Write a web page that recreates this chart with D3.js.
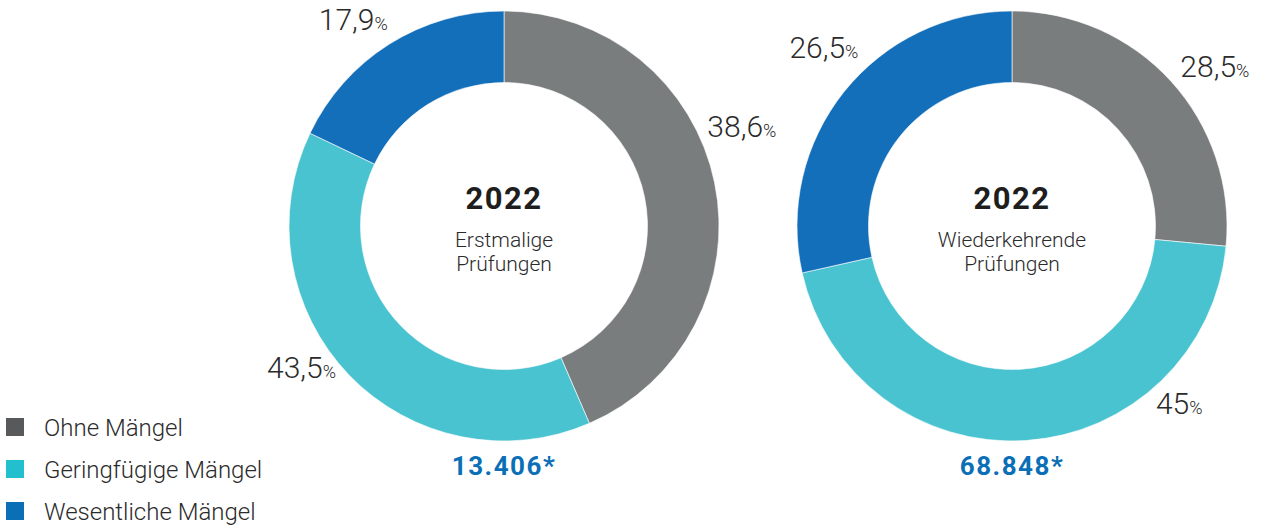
<!DOCTYPE html>
<html><head><meta charset="utf-8">
<script src="https://cdn.jsdelivr.net/npm/d3@7"></script>
<style>
html,body{margin:0;padding:0;background:#fff;}
svg{display:block;}
</style></head>
<body>
<svg id="c" width="1262" height="527"></svg>
<script>
const categories = ["Ohne Mängel", "Geringfügige Mängel", "Wesentliche Mängel"];
// slice sizes as drawn in the reference picture
const erstmaligeValues = [43.5, 38.6, 17.9];
const wiederkehrendeValues = [26.5, 45, 28.5];
// label texts as printed next to each slice in the reference
const valueLabels1 = ["38,6", "43,5", "17,9"];
const valueLabels2 = ["28,5", "45", "26,5"];
const chartYear = "2022";
const chartTitles = [["Erstmalige", "Prüfungen"], ["Wiederkehrende", "Prüfungen"]];
const totals = ["13.406*", "68.848*"];

const sliceColors = ["#7a7d7e", "#4ac3d0", "#136fb9"];
const legendColors = ["#58595b", "#22bfcf", "#0a6fb7"];
const FONT = "Roboto, 'Open Sans', sans-serif";

const svg = d3.select("#c");
const outerR = 215, innerR = 143.5;
const charts = [
  {cx: 504, cy: 226, values: erstmaligeValues, labels: valueLabels1, title: chartTitles[0], total: totals[0],
   shift: [-10, 8, -4.5], lr: [256, 250, 252]},
  {cx: 1012, cy: 226, values: wiederkehrendeValues, labels: valueLabels2, title: chartTitles[1], total: totals[1],
   shift: [5, -39, 4], lr: [255, 247, 256]}
];
const pie = d3.pie().sort(null).value(d => d);
const arc = d3.arc().innerRadius(innerR).outerRadius(outerR);
const toRad = Math.PI / 180;

charts.forEach(ch => {
  const g = svg.append("g").attr("transform", `translate(${ch.cx},${ch.cy})`);
  const arcs = pie(ch.values);
  g.selectAll("path").data(arcs).enter().append("path")
    .attr("d", arc)
    .attr("fill", (d, i) => sliceColors[i])
    .attr("stroke", "#fff").attr("stroke-width", 0.6);
  g.selectAll("text.lbl").data(arcs).enter().append("text")
    .attr("class", "lbl")
    .each(function (d, i) {
      const a = (d.startAngle + d.endAngle) / 2 + ch.shift[i] * toRad;
      const r = ch.lr[i];
      const x = Math.sin(a) * r, y = -Math.cos(a) * r;
      const t = d3.select(this)
        .attr("x", x).attr("y", y).attr("dy", "0.36em")
        .attr("text-anchor", "middle")
        .attr("font-family", FONT).attr("font-weight", 300)
        .attr("fill", "#2b2b2b");
      t.append("tspan").attr("font-size", 30).text(ch.labels[i]);
      t.append("tspan").attr("font-size", 18).text("%");
    });
  g.append("text").attr("x", 0).attr("y", -17).attr("text-anchor", "middle")
    .attr("font-family", FONT).attr("font-weight", 700).attr("font-size", 31)
    .attr("letter-spacing", 1.5)
    .attr("fill", "#1e1e1e").text(chartYear);
  ch.title.forEach((t, i) => {
    g.append("text").attr("x", 0).attr("y", 21 + i * 24).attr("text-anchor", "middle")
      .attr("font-family", FONT).attr("font-weight", 300).attr("font-size", 21)
      .attr("fill", "#2b2b2b").text(t);
  });
  g.append("text").attr("x", 0).attr("y", 249).attr("text-anchor", "middle")
    .attr("font-family", FONT).attr("font-weight", 700).attr("font-size", 26)
    .attr("letter-spacing", 1.5)
    .attr("fill", "#0a6fb7").text(ch.total);
});

const lg = svg.append("g");
const ly = d3.scaleBand().domain(categories).range([418, 544]);
categories.forEach((c, i) => {
  lg.append("rect").attr("x", 6).attr("y", ly(c)).attr("width", 18).attr("height", 18)
    .attr("fill", legendColors[i]);
  lg.append("text").attr("x", 44).attr("y", ly(c) + 18).attr("font-family", FONT)
    .attr("font-weight", 300).attr("font-size", 24).attr("fill", "#2b2b2b").text(c);
});
</script>
</body></html>
